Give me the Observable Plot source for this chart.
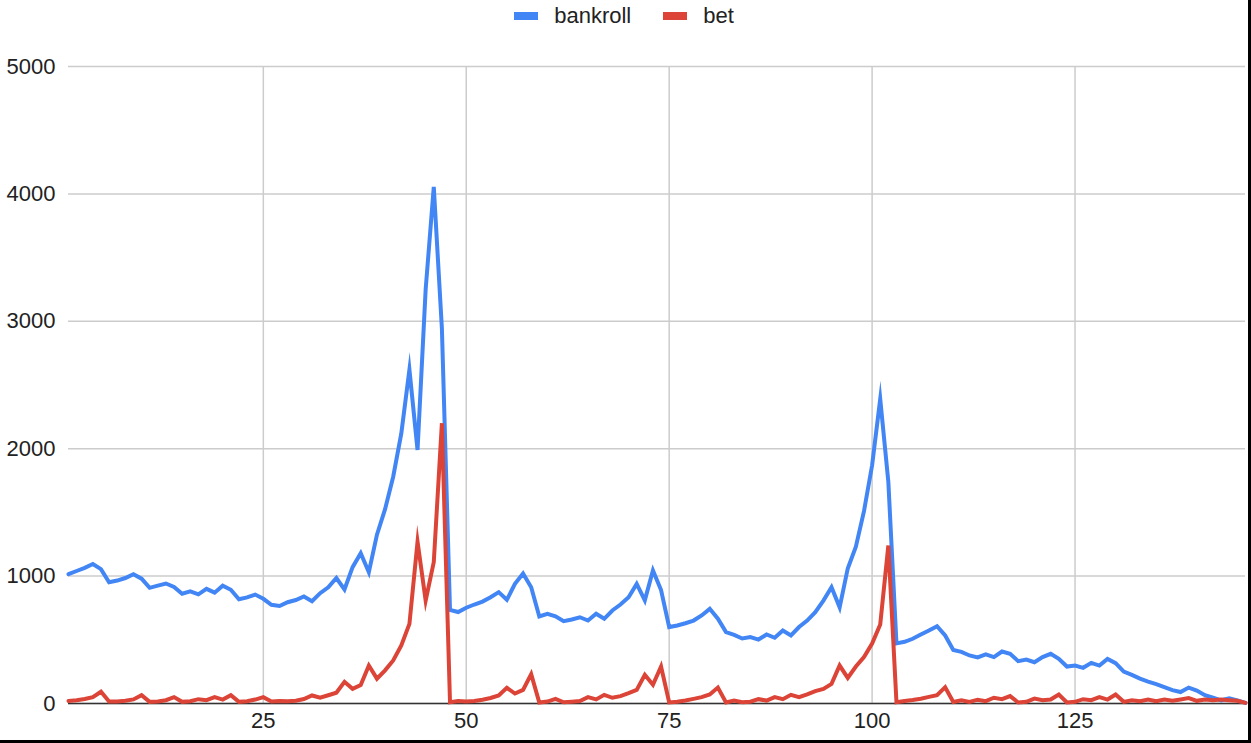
<!DOCTYPE html>
<html>
<head>
<meta charset="utf-8">
<script src="https://cdn.jsdelivr.net/npm/d3@7"></script>
<script src="https://cdn.jsdelivr.net/npm/@observablehq/plot@0.6"></script>
<style>
  html, body { margin: 0; padding: 0; background: #fff; }
  #wrap { width: 1251px; height: 743px; box-sizing: border-box; border-right: 3px solid #000; border-bottom: 3px solid #000; overflow: hidden; font-family: "Liberation Sans", Arial, sans-serif; }
  #legend { height: 34px; display: flex; justify-content: center; align-items: center; font-size: 22px; color: #222; padding-bottom: 3px; box-sizing: border-box; }
  .item { display: flex; align-items: center; margin: 0 16px; }
  .sw { width: 24px; height: 8px; margin-right: 16px; }
</style>
</head>
<body>
<div id="wrap">
  <div id="legend"></div>
  <div id="chart"></div>
</div>
<script>
const seriesNames = ["bankroll", "bet"];
const seriesColors = ["#4285f4", "#db4437"];
const xTicks = [25, 50, 75, 100, 125];
const yTicks = [0, 1000, 2000, 3000, 4000, 5000];

const bankroll = [
  1015, 1040, 1065, 1095, 1055, 952, 965, 985, 1015, 980,
  908, 925, 942, 915, 862, 880, 857, 900, 870, 925,
  893, 818, 833, 855, 822, 775, 765, 795, 812, 840,
  803, 866, 912, 985, 895, 1070, 1180, 1030, 1325, 1525,
  1780, 2120, 2620, 1990, 3250, 4055, 2945, 735, 718, 752,
  777, 800, 834, 874, 814, 939, 1020, 913, 683, 704,
  685, 646, 659, 677, 651, 704, 665, 730, 777, 834,
  939, 810, 1045, 890, 600, 612, 630, 651, 691, 743,
  665, 560, 539, 510, 521, 502, 542, 516, 573, 534,
  600, 651, 717, 808, 913, 755, 1060, 1230, 1510, 1870,
  2390, 1740, 472, 484, 508, 541, 573, 607, 534, 420,
  405, 377, 362, 385, 364, 408, 390, 332, 345, 324,
  364, 390, 351, 290, 298, 280, 319, 298, 350, 317,
  250, 225, 195, 172, 152, 128, 105, 90, 125, 102,
  65, 45, 25, 40, 25, 5
];

const bet = [
  20, 25, 35, 50, 92, 15, 15, 22, 32, 65,
  13, 16, 26, 50, 13, 18, 34, 26, 50, 31,
  65, 13, 18, 31, 50, 16, 20, 18, 22, 35,
  63, 45, 65, 85, 170, 115, 145, 298, 195, 260,
  338, 455, 625, 1270, 808, 1110, 2200, 10, 20, 15,
  20, 30, 43, 63, 123, 78, 107, 230, 8, 15,
  37, 10, 14, 19, 50, 32, 68, 45, 58, 81,
  107, 225, 147, 290, 8, 13, 23, 36, 50, 71,
  125, 8, 23, 10, 14, 34, 23, 50, 34, 68,
  50, 71, 97, 115, 154, 298, 201, 290, 365, 470,
  620, 1240, 10, 20, 28, 38, 52, 65, 128, 12,
  25, 13, 30, 18, 45, 34, 58, 8, 13, 39,
  26, 31, 71, 8, 13, 34, 26, 50, 31, 71,
  13, 26, 18, 31, 18, 31, 21, 31, 42, 21,
  31, 26, 31, 26, 21, 5
];

const rows = [];
[bankroll, bet].forEach((arr, s) => arr.forEach((v, i) => rows.push({x: i + 1, y: v, series: seriesNames[s]})));

const legend = document.getElementById("legend");
seriesNames.forEach((n, i) => {
  const it = document.createElement("div");
  it.className = "item";
  it.innerHTML = `<span class="sw" style="background:${seriesColors[i]}"></span><span>${n}</span>`;
  legend.appendChild(it);
});

const chart = Plot.plot({
  width: 1248,
  height: 706,
  marginTop: 32,
  marginBottom: 37,
  marginLeft: 68,
  marginRight: 3,
  style: { fontFamily: '"Liberation Sans", Arial, sans-serif', fontSize: "22px", color: "#222", background: "#fff" },
  x: { domain: [1, 146], label: null },
  y: { domain: [0, 5000], label: null },
  color: { domain: seriesNames, range: seriesColors },
  marks: [
    Plot.gridX(xTicks, { stroke: "#ccc", strokeOpacity: 1, strokeWidth: 1.5 }),
    Plot.gridY(yTicks, { stroke: "#ccc", strokeOpacity: 1, strokeWidth: 1.5 }),
    Plot.axisY(yTicks, { tickSize: 0, tickPadding: 13, tickFormat: d => String(d), fontSize: 22, label: null }),
    Plot.axisX(xTicks, { tickSize: 0, tickPadding: 9, tickFormat: d => String(d), fontSize: 22, label: null }),
    Plot.ruleY([0], { stroke: "#333", strokeWidth: 1.5 }),
    Plot.line(rows, { x: "x", y: "y", z: "series", stroke: "series", strokeWidth: 4, strokeLinejoin: "miter", strokeMiterlimit: 10 })
  ]
});
document.getElementById("chart").appendChild(chart);
</script>
</body>
</html>
